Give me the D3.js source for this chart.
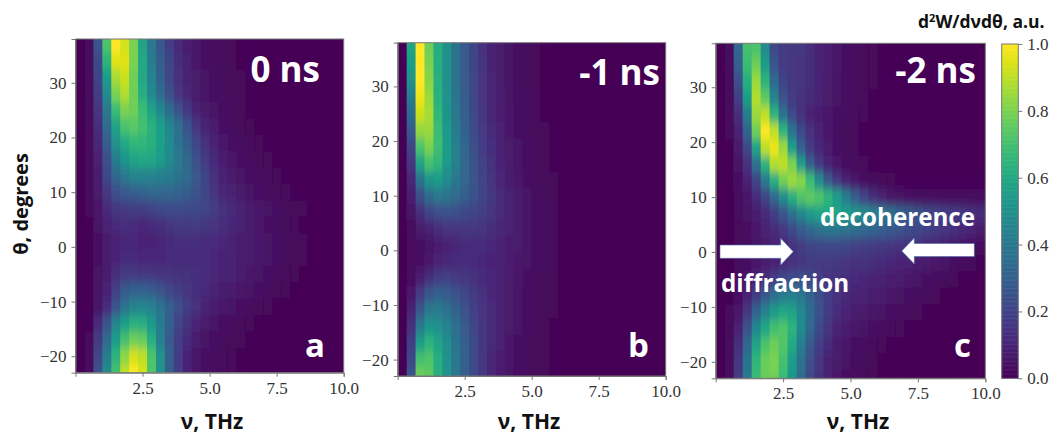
<!DOCTYPE html>
<html>
<head>
<meta charset="utf-8">
<script src="https://cdn.jsdelivr.net/npm/d3@7"></script>
<style>
    html, body { margin: 0; padding: 0; background: #fff; }
    svg { display: block; }
    .tick text { font-family: "Liberation Serif", serif; font-size: 17px; fill: #333; }
    .tick line, .domain { stroke: #777; }
    .label { font-family: "Open Sans", sans-serif; font-weight: 700; fill: #111; }
    .note { font-family: "Open Sans", sans-serif; font-weight: 700; fill: #fff; }
</style>
</head>
<body>
<div id="chart"></div>
<script>
/* theta at the centre of each row, every row holds 30 cells of 1/3 THz, values in % of max */
var thetaRows = [37, 34, 31, 28, 25, 22, 19, 16, 13, 10, 7, 4, 1, -2, -5, -8, -11, -14, -17, -20, -23];
var nuStep = 1 / 3;
var nuTicks = [2.5, 5, 7.5, 10];
var thetaTicks = [-20, -10, 0, 10, 20, 30];
var barTicks = [0, 0.2, 0.4, 0.6, 0.8, 1];

var values0ns = [
    [.5,3,25,72,100,93,80,58,40,27,18,12,8,6,4,3,2.4,1.9,1.5,1.2,1,.8,.7,.6,.5,.4,.3,.2,.1,.1],
    [.5,3,22,65,95,95,80,60,42,29,20,13,9,6,4,3,2.4,1.9,1.5,1.2,1,.8,.7,.6,.5,.4,.3,.2,.1,.1],
    [.5,3,20,55,87,92,78,60,44,31,21,14,10,7,5,3.5,2.5,2,1.6,1.2,1,.8,.7,.6,.5,.4,.3,.2,.1,.1],
    [.5,3,18,48,80,88,78,62,47,35,24,15,11,7,5,4,3,2.2,1.7,1.3,1,.8,.7,.6,.5,.4,.3,.2,.1,.1],
    [.5,2,15,40,68,80,78,68,58,47,35,25,16,10,7,5,3.5,2.5,1.9,1.4,1.1,.9,.7,.6,.5,.4,.3,.2,.1,.1],
    [.5,2,13,34,58,71,74,70,64,56,46,36,25,16,10,7,4.5,3.2,2.3,1.7,1.3,1,.8,.6,.5,.4,.3,.2,.1,.1],
    [.5,2,11,29,50,60,66,66,63,57,48,39,30,21,14,9,6.5,4.5,3.2,2.3,1.7,1.3,1,.7,.5,.4,.3,.2,.1,.1],
    [.5,2,9,24,42,52,58,60,59,55,48,41,33,24,17,12,8,5.5,4,3,2.2,1.6,1.2,.9,.6,.4,.3,.2,.1,.1],
    [.5,2,8,22,33,40,45,45,45,43,42,38,34,28,20,14,10,7,5,4,3,2.2,1.6,1.2,.8,.6,.4,.3,.2,.1],
    [.5,2,7,16,24,28,30,32,33,33,33,32,29,25,20,15,11,9,7,5,4,3,2.2,1.6,1.2,.8,.6,.4,.3,.2],
    [.5,2,6,12,16,17,18,18,20,22,23,23,22,22,20,18,14,12,9,7,6,5,4,3,2.2,1.6,1.1,.7,.4,.3],
    [.5,1.5,5,9,12,13,12,11,12,13,15,17,17,17,16,15,13,11,9,7,6,4.5,3.5,2.6,1.9,1.4,1,.7,.4,.3],
    [.5,1.5,4,7,10,11,11,10,10,11,12,13,13,13,12,12,11,10,8,7,6,5,4,3,2.2,1.6,1.1,.7,.4,.3],
    [.5,1.5,4,7,10,12,12,11,11,11,12,12,12,12,12,11,10,9,8,7,6,5,4,3,2.2,1.6,1.1,.7,.4,.3],
    [.5,1.5,5,8,13,17,17,16,16,15,15,14,14,13,12,11,10,9,7,6,5,4,3,2.2,1.6,1.1,.7,.5,.3,.2],
    [.5,1.5,5,10,19,28,31,31,29,25,21,18,15,13,12,10,8,7,6,5,4,3,2.2,1.6,1.1,.7,.5,.3,.2,.1],
    [.5,1.5,5,12,25,38,44,46,44,38,30,24,18,14,10,8,6,5,4,3,2.2,1.6,1.1,.8,.6,.4,.3,.2,.1,.1],
    [.5,1.5,12,26,45,56,63,62,54,42,30,20,14,10,7,5,4,3,2.2,1.6,1.1,.8,.6,.4,.3,.2,.2,.1,.1,.1],
    [.5,2,17,34,55,70,78,76,62,43,28,18,12,8,5,4,3,2.2,1.6,1.2,.9,.6,.4,.3,.2,.2,.1,.1,.1,.1],
    [.5,2,21,42,65,83,93,90,72,50,30,18,10,6,4,3,2.2,1.6,1.2,.9,.6,.4,.3,.2,.2,.1,.1,.1,.1,.1],
    [.5,2,25,48,70,90,100,93,72,50,30,18,10,6,4,3,2.2,1.6,1.2,.9,.6,.4,.3,.2,.2,.1,.1,.1,.1,.1]
];

var values1ns = [
    [0,58,100,78,62,50,38,28,20,14,10,7,5,3.5,2.5,1.9,1.4,1.1,.8,.6,.5,.4,.3,.2,.2,.1,.1,.1,.1,.1],
    [0,55,100,80,62,50,38,28,20,15,10,7,5,3.5,2.5,1.9,1.4,1.1,.8,.6,.5,.4,.3,.2,.2,.1,.1,.1,.1,.1],
    [0,50,100,82,63,50,38,28,21,15,11,7,5,3.5,2.5,1.9,1.4,1.1,.8,.6,.5,.4,.3,.2,.2,.1,.1,.1,.1,.1],
    [0,42,97,85,64,51,39,29,21,15,11,8,5,4,3,2.1,1.5,1.1,.8,.6,.5,.4,.3,.2,.2,.1,.1,.1,.1,.1],
    [0,35,92,87,66,52,40,30,22,16,11,8,6,4,3,2.1,1.5,1.1,.8,.6,.5,.4,.3,.2,.2,.1,.1,.1,.1,.1],
    [0,27,84,85,68,54,42,31,23,17,12,9,6,4,3,2.2,1.6,1.2,.9,.7,.5,.4,.3,.2,.2,.1,.1,.1,.1,.1],
    [0,20,72,80,69,55,43,33,24,18,13,9,7,5,3.4,2.4,1.7,1.3,1,.7,.5,.4,.3,.2,.2,.1,.1,.1,.1,.1],
    [0,15,58,70,66,54,43,33,25,19,14,10,7,5,3.5,2.6,1.9,1.4,1,.8,.6,.4,.3,.2,.2,.1,.1,.1,.1,.1],
    [0,11,38,52,55,48,40,33,26,20,15,11,8,6,4,3,2.2,1.6,1.2,.9,.6,.4,.3,.2,.2,.1,.1,.1,.1,.1],
    [0,8,24,35,40,38,34,30,25,20,16,12,9,7,5,3.5,2.5,1.8,1.3,1,.7,.5,.3,.2,.2,.1,.1,.1,.1,.1],
    [0,5,13,20,24,25,24,22,20,18,15,12,9,7,5,4,3,2.1,1.5,1.1,.8,.5,.4,.3,.2,.1,.1,.1,.1,.1],
    [0,3,7,10,13,15,15,16,16,15,13,11,9,7,5,4,3,2.1,1.5,1.1,.8,.5,.4,.3,.2,.1,.1,.1,.1,.1],
    [0,2,4,5,8,10,11,12,12,12,11,10,8,7,5,4,3,2.1,1.5,1.1,.8,.5,.4,.3,.2,.1,.1,.1,.1,.1],
    [0,2,4,6,9,11,12,12,12,11,10,9,8,6,5,4,3,2.1,1.5,1.1,.8,.5,.4,.3,.2,.1,.1,.1,.1,.1],
    [0,3,8,13,18,19,17,16,14,12,11,9,7,6,4,3,2.2,1.6,1.1,.8,.6,.4,.3,.2,.2,.1,.1,.1,.1,.1],
    [0,6,17,27,31,29,25,21,17,14,11,9,7,5,4,3,2.2,1.6,1.1,.8,.6,.4,.3,.2,.2,.1,.1,.1,.1,.1],
    [0,10,27,40,41,37,31,25,19,15,12,9,7,5,4,3,2.2,1.6,1.1,.8,.6,.4,.3,.2,.2,.1,.1,.1,.1,.1],
    [0,14,40,53,51,44,36,28,21,16,12,9,7,5,3.5,2.5,1.8,1.3,.9,.7,.5,.4,.3,.2,.2,.1,.1,.1,.1,.1],
    [0,18,55,65,58,49,39,30,22,16,12,9,6,4,3,2.2,1.6,1.2,.9,.7,.5,.4,.3,.2,.2,.1,.1,.1,.1,.1],
    [0,21,70,72,62,51,40,30,22,16,11,8,6,4,3,2.2,1.6,1.2,.9,.7,.5,.4,.3,.2,.2,.1,.1,.1,.1,.1],
    [0,25,78,75,63,51,40,30,22,16,11,8,5,4,3,2.2,1.6,1.2,.9,.7,.5,.4,.3,.2,.2,.1,.1,.1,.1,.1]
];

var values2ns = [
    [0,3,33,70,72,48,22,17,16,16,13,10,8,6,4,3,2.3,1.8,1.4,1.1,.9,.7,.5,.4,.3,.2,.2,.1,.1,.1],
    [0,3,30,68,78,55,26,17,16,15,13,10,8,6,4,3,2.3,1.8,1.4,1.1,.9,.7,.5,.4,.3,.2,.2,.1,.1,.1],
    [0,2,24,62,85,65,35,20,16,15,13,10,7,5,4,3,2.1,1.6,1.2,1,.8,.6,.5,.4,.3,.2,.2,.1,.1,.1],
    [0,2,18,55,88,75,45,25,17,14,12,9,7,5,3.5,2.5,1.9,1.4,1.1,.9,.7,.5,.4,.3,.3,.2,.2,.1,.1,.1],
    [0,2,13,42,85,90,65,38,22,14,10,8,6,4,3,2.2,1.6,1.2,1,.8,.6,.5,.4,.3,.3,.2,.2,.2,.2,.2],
    [0,2,10,32,78,100,90,65,38,22,14,9,6,4,2.6,1.9,1.4,1.1,.9,.7,.6,.5,.4,.4,.3,.3,.3,.3,.3,.3],
    [0,1,7,22,58,90,97,85,55,30,17,11,7,4,2.6,1.9,1.4,1.1,.9,.7,.6,.5,.5,.5,.5,.5,.5,.5,.5,.5],
    [0,1,5,14,36,65,88,90,80,55,30,17,10,6,3.5,2.4,1.7,1.3,1,.9,.8,.8,.8,.8,.8,.8,.8,.8,.8,.8],
    [0,1,4,9,20,40,62,78,85,82,68,48,28,16,10,6,3.5,2.5,1.9,1.6,1.4,1.3,1.3,1.3,1.3,1.3,1.3,1.3,1.3,1.3],
    [0,1,3,6,12,20,33,48,62,72,75,72,65,55,42,30,20,13,9,6,5,4,3.5,3.2,3,3,3,3,3,3],
    [0,1,3,5,8,12,18,26,36,46,54,58,60,58,55,52,48,44,40,36,32,28,25,22,20,18,17,16,14,12],
    [0,1,2,4,6,9,12,16,22,28,33,36,38,38,37,35,33,31,29,27,25,23,21,19,17,15,13,11,9,7],
    [0,1,2,3,5,7,9,11,14,17,20,21,21,21,20,19,18,17,16,15,14,13,12,10,9,7,6,5,4,3],
    [0,1,2,4,6,8,10,12,14,16,17,17,17,16,15,14,14,13,12,11,10,9,8,7,6,5,4,3,2,1],
    [0,1,3,6,10,13,18,22,24,24,21,18,15,14,13,12,11,10,9,8,7,6,5,4,3,2.4,1.8,1.3,1,.7],
    [0,1,4,9,18,27,36,42,43,40,32,24,18,14,12,10,9,8,7,6,5,4,3,2.4,1.8,1.3,1,.7,.5,.3],
    [0,2,6,16,32,45,55,60,58,47,35,25,17,13,10,8,7,6,5,4,3,2.2,1.7,1.3,1,.7,.5,.3,.2,.1],
    [0,2,10,25,47,60,70,73,65,48,33,22,15,10,8,6,5,4,3,2.2,1.7,1.3,1,.7,.5,.3,.2,.2,.1,.1],
    [0,3,13,33,58,72,78,73,60,42,28,18,12,8,6,4,3,2.2,1.7,1.3,1,.7,.5,.3,.2,.2,.1,.1,.1,.1],
    [0,3,16,38,66,77,80,70,55,37,24,15,10,7,5,3.4,2.4,1.8,1.3,1,.7,.5,.3,.2,.2,.1,.1,.1,.1,.1],
    [0,3,17,40,68,77,78,68,53,35,22,14,9,6,4,3,2.2,1.6,1.2,.9,.6,.4,.3,.2,.2,.1,.1,.1,.1,.1]
];

var width = 1054, height = 435;
var svg = d3.select('#chart').append('svg')
    .attr('width', width)
    .attr('height', height);

/* the reference is a soft screenshot, so cells are smeared along theta */
svg.append('defs').append('filter')
    .attr('id', 'soft')
    .attr('x', '-5%').attr('y', '-10%').attr('width', '110%').attr('height', '120%')
    .append('feGaussianBlur')
    .attr('stdDeviation', '0.5 5');

function drawPanel(id, values, box) {
    var x = d3.scaleLinear().domain([0, 10]).range([box.left, box.right]);
    var y = d3.scaleLinear().domain([-23, 38]).range([box.bottom, box.top]);

    svg.append('clipPath').attr('id', 'clip' + id).append('rect')
        .attr('x', box.left).attr('y', box.top)
        .attr('width', box.right - box.left).attr('height', box.bottom - box.top);

    var cells = svg.append('g')
        .attr('clip-path', 'url(#clip' + id + ')')
        .append('g')
        .attr('filter', 'url(#soft)');

    var rows = cells.selectAll('g')
        .data(values)
        .enter()
        .append('g');

    rows.selectAll('rect')
        .data(function(d, i) {
            return d.map(function(v, c) {
                return { v: v, c: c, r: i };
            });
        })
        .enter()
        .append('rect')
        .attr('x', function(d) { return x(d.c * nuStep); })
        .attr('width', x(nuStep) - x(0) + 1)
        /* first and last rows run past the frame so the blur does not fade at the edge */
        .attr('y', function(d) {
            return y(thetaRows[d.r] + 1.5 + (d.r === 0 ? 6 : 0));
        })
        .attr('height', function(d) {
            var extra = d.r === 0 || d.r === thetaRows.length - 1 ? 6 : 0;
            return y(0) - y(3 + extra) + 1;
        })
        .attr('fill', function(d) { return d3.interpolateViridis(d.v / 100); });

    svg.append('g')
        .attr('transform', 'translate(0,' + box.bottom + ')')
        .call(d3.axisBottom(x).tickValues(nuTicks).tickFormat(d3.format('.1f')).tickSize(4).tickPadding(5));

    svg.append('g')
        .attr('transform', 'translate(' + box.left + ',0)')
        .call(d3.axisLeft(y).tickValues(thetaTicks).tickSize(4).tickPadding(5));

    svg.append('rect')
        .attr('x', box.left).attr('y', box.top)
        .attr('width', box.right - box.left).attr('height', box.bottom - box.top)
        .attr('fill', 'none')
        .attr('stroke', '#777');

    svg.append('text').attr('class', 'label')
        .attr('x', box.labelX)
        .attr('y', 428.7)
        .attr('text-anchor', 'middle')
        .style('font-size', '21px')
        .text('ν, THz');
}

drawPanel('a', values0ns, { left: 75.5, right: 343.7, top: 39, bottom: 372.7, labelX: 212 });
drawPanel('b', values1ns, { left: 397.7, right: 665.7, top: 42.7, bottom: 376, labelX: 529 });
drawPanel('c', values2ns, { left: 715.7, right: 985.3, top: 43.3, bottom: 378.3, labelX: 858 });

/* colour bar */
var barScale = d3.scaleLinear().domain([0, 1]).range([378.3, 44]);
var barSteps = d3.range(0, 1, 1 / 256);

svg.append('g').selectAll('rect')
    .data(barSteps)
    .enter()
    .append('rect')
    .attr('x', 1001.7)
    .attr('width', 16.6)
    .attr('y', function(d) { return barScale(d + 1 / 256); })
    .attr('height', barScale(0) - barScale(1 / 256) + 0.5)
    .attr('fill', function(d) { return d3.interpolateViridis(d); });

svg.append('rect')
    .attr('x', 1001.7).attr('y', 44)
    .attr('width', 16.6).attr('height', 334.3)
    .attr('fill', 'none')
    .attr('stroke', '#777');

svg.append('g')
    .attr('transform', 'translate(1018.3,0)')
    .call(d3.axisRight(barScale).tickValues(barTicks).tickFormat(d3.format('.1f')).tickSize(4).tickPadding(5))
    .call(function(g) { g.select('.domain').remove(); });

/* labels */
svg.append('text').attr('class', 'label')
    .attr('transform', 'translate(28,204) rotate(-90)')
    .attr('text-anchor', 'middle')
    .style('font-size', '20px')
    .text('θ, degrees');

var barTitle = svg.append('text').attr('class', 'label')
    .attr('x', 918)
    .attr('y', 27.5)
    .style('font-size', '17.5px');
barTitle.append('tspan').text('d');
barTitle.append('tspan').attr('dy', -6).style('font-size', '11px').text('2');
barTitle.append('tspan').attr('dy', 6).text('W/dνdθ, a.u.');

var notes = [
    { text: '0 ns', x: 320, y: 81.7, size: 35, anchor: 'end' },
    { text: '-1 ns', x: 660, y: 85, size: 35, anchor: 'end' },
    { text: '-2 ns', x: 976, y: 82.7, size: 35, anchor: 'end' },
    { text: 'a', x: 305, y: 356.7, size: 33, anchor: 'start' },
    { text: 'b', x: 628, y: 357, size: 33, anchor: 'start' },
    { text: 'c', x: 954, y: 356.7, size: 33, anchor: 'start' },
    { text: 'decoherence', x: 820, y: 226, size: 24.2, anchor: 'start' },
    { text: 'diffraction', x: 721, y: 292, size: 24.2, anchor: 'start' }
];

svg.selectAll('text.note')
    .data(notes)
    .enter()
    .append('text')
    .attr('class', 'note')
    .attr('x', function(d) { return d.x; })
    .attr('y', function(d) { return d.y; })
    .attr('text-anchor', function(d) { return d.anchor; })
    .style('font-size', function(d) { return d.size + 'px'; })
    .text(function(d) { return d.text; });

/* the two white arrows */
var arrows = [
    '720,245 780.7,245 780.7,238.3 793.3,251.7 780.7,265 780.7,258.3 720,258.3',
    '974.3,243.5 914.3,243.5 914.3,238 901.7,251 914.3,264 914.3,256.5 974.3,256.5'
];

svg.selectAll('polygon')
    .data(arrows)
    .enter()
    .append('polygon')
    .attr('points', function(d) { return d; })
    .attr('fill', '#fff')
    .attr('stroke', '#4a6fa5')
    .attr('stroke-width', 0.6);
</script>
</body>
</html>
